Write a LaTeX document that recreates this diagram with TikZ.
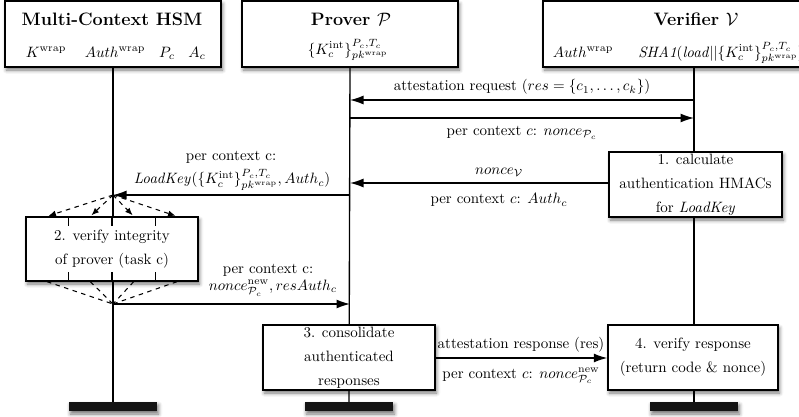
\documentclass[tikz,border=0pt]{standalone}
\usetikzlibrary{arrows.meta,calc,shadows.blur}
\def\pxu{0.66667pt}
\begin{document}
\begin{tikzpicture}[x=0.66667pt,y=-0.66667pt,
  softshadow/.style={blur shadow={shadow xshift=1pt,shadow yshift=-2pt,shadow blur radius=2.5pt,shadow opacity=55}},
  stepbox/.style={draw,fill=white,line width=0.9pt,inner sep=0pt,align=center,softshadow,
    font=\fontsize{10}{16}\selectfont},
  endbar/.style={fill=black!92,inner sep=0pt,minimum width=88*\pxu,minimum height=9*\pxu,softshadow},
  lifeline/.style={line width=0.9pt},
  msgarrow/.style={line width=0.9pt,-{Latex[length=9pt,width=6pt]}},
  forkarrow/.style={line width=0.7pt,dashed,-{Latex[length=5pt,width=4pt]}},
  mergeline/.style={line width=0.7pt,dashed},
  colmark/.style={line width=0.9pt},
  headtitle/.style={font=\bfseries\large},
  msglabel/.style={inner sep=1pt}]
\useasboundingbox (0,0) rectangle (799,416);
\clip (0,0) rectangle (799,416);

% lifeline ends (under the participant boxes and above the end bars)
\coordinate (hsmtop) at (113,67);
\coordinate (prvtop) at (350,67);
\coordinate (vertop) at (694,67);
\coordinate (hsmend) at (113,402);
\coordinate (prvend) at (349,402);
\coordinate (verend) at (694,402);

% lifelines, drawn first so boxes cover them
\draw[lifeline] (hsmtop) -- (hsmend);
\draw[lifeline] (prvtop) -- (prvend);
\draw[lifeline] (vertop) -- (verend);

% participants
\node[stepbox,minimum width=216*\pxu,minimum height=66*\pxu] (hsm) at (113,34) {};
\node[stepbox,minimum width=216*\pxu,minimum height=66*\pxu] (prv) at (350,34) {};
\node[stepbox,minimum width=302*\pxu,minimum height=66*\pxu] (ver) at (694,34) {};

% end bars
\node[endbar] (hsmbar) at (113,406.5) {};
\node[endbar] (prvbar) at (349,406.5) {};
\node[endbar] (verbar) at (694,406.5) {};

% participant titles and data
\node[headtitle] (hsmt) at (112,19) {Multi-Context HSM};
\node[anchor=base] (kw) at (46,57) {$K^{\mathrm{wrap}}$};
\node[anchor=base] (aw) at (115,57) {$Auth^{\mathrm{wrap}}$};
\node[anchor=base] (pc) at (167,57) {$P_c$};
\node[anchor=base] (ac) at (197,57) {$A_c$};

\node[headtitle] (prvt) at (351,19) {Prover $\mathcal{P}$};
\node[anchor=base] (kint) at (348,54) {$\{K_c^{\mathrm{int}}\}_{pk^{\mathrm{wrap}}}^{P_c,T_c}$};

\node[headtitle] (vert) at (696,19) {Verifier $\mathcal{V}$};
\node[anchor=base] (vaw) at (583,57) {$Auth^{\mathrm{wrap}}$};
\node[anchor=base west,inner sep=0pt] (sha) at (638,57) {\textit{SHA1}(\textit{load}$||\{K_c^{\mathrm{int}}\}_{pk^{\mathrm{wrap}}}^{P_c,T_c})$};

% step boxes
\node[stepbox,minimum width=173*\pxu,minimum height=65*\pxu] (hmac) at (695.5,184.5)
  {1. calculate\\authentication HMACs\\for \textit{LoadKey}};
\node[stepbox,minimum width=172*\pxu,minimum height=64*\pxu] (task) at (112,249)
  {2. verify integrity\\of prover (task c)};
\node[stepbox,minimum width=172*\pxu,minimum height=65*\pxu] (cons) at (349,357.5)
  {3. consolidate\\authenticated\\responses};
\node[stepbox,minimum width=170*\pxu,minimum height=65*\pxu] (vresp) at (693,357.5)
  {4. verify response\\(return code \& nonce)};

% message end points on lifelines
\coordinate (v100) at (694,100);
\coordinate (p100) at (350,100);
\coordinate (p118) at (350,118);
\coordinate (v118) at (694,118);
\coordinate (p183) at (350,183);
\coordinate (p195) at (350,195);
\coordinate (forkpt) at (113,195);
\coordinate (joinpt) at (113,304);
\coordinate (p304) at (350,304);

% messages
\draw[msgarrow] (v100) -- (p100);
\node[msglabel] (m1) at (522,87) {attestation request ($res = \{c_1, \ldots, c_k\}$)};
\draw[msgarrow] (p118) -- (v118);
\node[msglabel] (m2) at (522,133) {per context $c$: $nonce_{\mathcal{P}_c}$};

\draw[msgarrow] (hmac.west |- p183) -- (p183);
\node[msglabel] (m3a) at (499,172) {$nonce_{\mathcal{V}}$};
\node[msglabel] (m3b) at (499,200) {per context $c$: $Auth_c$};

\draw[msgarrow] (p195) -- (forkpt);
\node[msglabel] (m4a) at (231,157) {per context c:};
\node[msglabel] (m4b) at (232,180) {$\mathit{LoadKey}(\{K_c^{\mathrm{int}}\}_{pk^{\mathrm{wrap}}}^{P_c,T_c}, Auth_c)$};

% parallel tasks: fork, column marks, merge
\foreach \f in {0.125,0.375,0.625,0.875}{
  \draw[forkarrow,shorten >=1pt] (forkpt) -- ($(task.north west)!\f!(task.north east)$);
  \draw[mergeline] ($(task.south west)!\f!(task.south east)$) -- (joinpt);
}
\foreach \f in {0.25,0.5,0.75}{
  \draw[colmark] ($(task.north west)!\f!(task.north east)$) -- ++(0,10);
  \draw[colmark] ($(task.south west)!\f!(task.south east)$) -- ++(0,-10);
}

\draw[msgarrow] (joinpt) -- (p304);
\node[msglabel] (m5a) at (268,270) {per context c:};
\node[msglabel] (m5b) at (273,288) {$nonce_{\mathcal{P}_c}^{\mathrm{new}}, resAuth_c$};

\draw[msgarrow] (cons.east |- 0,358) -- (vresp.west |- 0,358);
\node[msglabel] (m6a) at (521,345) {attestation response (res)};
\node[msglabel] (m6b) at (521,376) {per context $c$: $nonce_{\mathcal{P}_c}^{\mathrm{new}}$};
\end{tikzpicture}
\end{document}
